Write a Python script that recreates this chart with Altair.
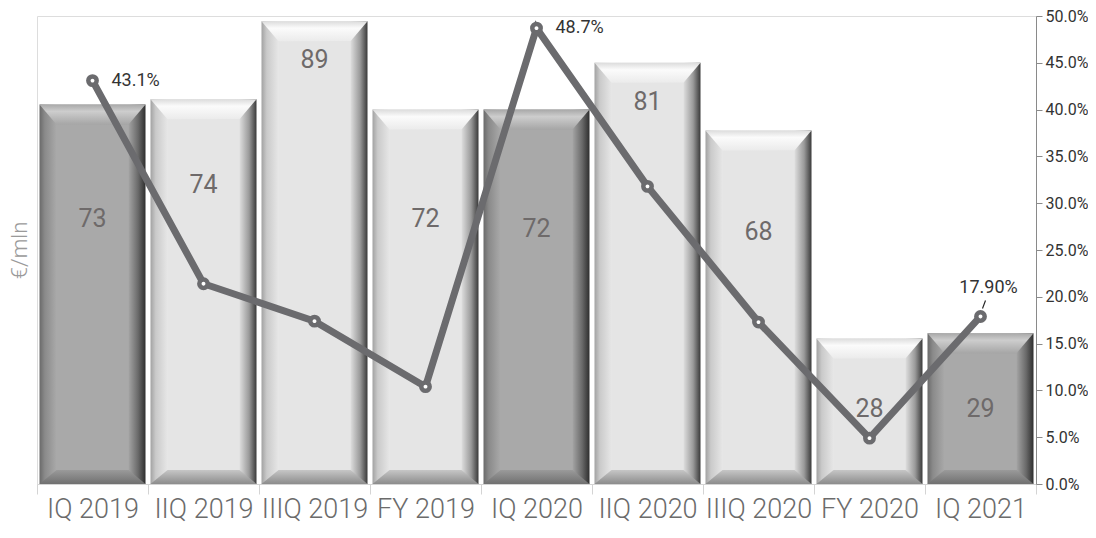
import altair as alt
import pandas as pd

categories = ["IQ 2019", "IIQ 2019", "IIIQ 2019", "FY 2019", "IQ 2020",
              "IIQ 2020", "IIIQ 2020", "FY 2020", "IQ 2021"]
values = [73, 74, 89, 72, 72, 81, 68, 28, 29]
tones = ["dark", "light", "light", "light", "dark", "light", "light", "light", "dark"]
label_pos = [51, 57.5, 81.5, 51, 49, 73.5, 48.5, 14.5, 14.5]
pct = [43.1, 21.4, 17.4, 10.4, 48.7, 31.8, 17.3, 4.9, 17.9]
pct_labels = ["43.1%", "", "", "", "48.7%", "", "", "", "17.90%"]
pct_side = ["right", "", "", "", "right", "", "", "", "above"]

df = pd.DataFrame({
    "cat": categories, "value": values, "tone": tones, "lpos": label_pos,
    "pct": [p / 100 for p in pct], "plabel": pct_labels, "side": pct_side,
    "vlabel": [str(v) for v in values],
})

FONT = "Roboto"
BAR_W = 106
FACE_W = 72
TOP_H = 20
BOT_H = 14

x_enc = alt.X("cat:N", sort=categories,
              scale=alt.Scale(paddingInner=0, paddingOuter=0),
              axis=alt.Axis(title=None, labelFontSize=27, labelColor="#6b6b6b",
                            labelFontWeight=300, labelFont=FONT, labelAngle=0,
                            labelPadding=2, tickBand="extent", tickSize=10,
                            tickColor="#d4d4d4", domainColor="#d4d4d4",
                            labelOverlap=False))

y_scale = alt.Scale(domain=[0, 90], nice=False, zero=True)
y_bar = alt.Y("value:Q", scale=y_scale, stack=None,
              axis=alt.Axis(title="€/mln", labels=False, ticks=False, domain=False,
                            grid=False, titleFontSize=22, titleColor="#9a9a9a",
                            titleFontWeight=300, titleFont=FONT, titlePadding=6))


def hgrad(stops):
    return alt.Gradient(gradient="linear", x1=0, x2=1, y1=0, y2=0,
                        stops=[alt.GradientStop(offset=o, color=c) for o, c in stops])


def vgrad(stops):
    return alt.Gradient(gradient="linear", x1=0, x2=0, y1=0, y2=1,
                        stops=[alt.GradientStop(offset=o, color=c) for o, c in stops])


styles = {
    "dark": dict(
        side=[(0, "#6a6a6a"), (0.05, "#8a8a8a"), (0.16, "#a9a9a9"), (0.84, "#a4a4a4"),
              (0.93, "#6a6a6a"), (1, "#2e2e2e")],
        top=[(0, "#a8a8a8"), (0.35, "#cdcdcd"), (1, "#a6a6a6")],
        bot=[(0, "#9a9a9a"), (1, "#707070")],
        face="#a9a9a9"),
    "light": dict(
        side=[(0, "#a2a2a2"), (0.05, "#cacaca"), (0.16, "#e6e6e6"), (0.84, "#dedede"),
              (0.93, "#9a9a9a"), (1, "#3a3a3a")],
        top=[(0, "#dcdcdc"), (0.35, "#fbfbfb"), (1, "#ebebeb")],
        bot=[(0, "#c6c6c6"), (1, "#8c8c8c")],
        face="#e5e5e5"),
}

hw = TOP_H / BAR_W
bw = BOT_H / BAR_W
fr = FACE_W / BAR_W
top_path = f"M-1,{-hw:.4f}L1,{-hw:.4f}L{fr:.4f},{hw:.4f}L{-fr:.4f},{hw:.4f}Z"
bot_path = f"M{-fr:.4f},{-bw:.4f}L{fr:.4f},{-bw:.4f}L1,{bw:.4f}L-1,{bw:.4f}Z"
sym_size = BAR_W * BAR_W

base = alt.Chart(df)
bar_layers = []
for tone, st in styles.items():
    b = base.transform_filter(alt.datum.tone == tone)
    bar_layers.append(b.mark_bar(size=BAR_W, fill=hgrad(st["side"]), stroke=None).encode(
        x=x_enc, y=y_bar, y2=alt.datum(0)))
    bar_layers.append(b.mark_bar(size=FACE_W, fill=st["face"], yOffset=TOP_H,
                                 y2Offset=-BOT_H).encode(
        x=x_enc, y=y_bar, y2=alt.datum(0)))
    bar_layers.append(b.mark_point(shape=top_path, size=sym_size, filled=True, opacity=1,
                                   fill=vgrad(st["top"]), strokeWidth=0,
                                   yOffset=TOP_H / 2).encode(x=x_enc, y=y_bar))
    bar_layers.append(b.mark_point(shape=bot_path, size=sym_size, filled=True, opacity=1,
                                   fill=vgrad(st["bot"]), strokeWidth=0,
                                   yOffset=-BOT_H / 2).encode(
        x=x_enc, y=alt.Y(datum=0, scale=y_scale)))

bar_text = base.mark_text(font=FONT, fontSize=25, color="#6e6a6a", baseline="middle").encode(
    x=x_enc, y=alt.Y("lpos:Q", scale=y_scale), text="vlabel:N")

bars = alt.layer(*bar_layers, bar_text)

LINE_C = "#6b6b6e"
p_scale = alt.Scale(domain=[0, 0.5], nice=False)
y_pct = alt.Y("pct:Q", scale=p_scale,
              axis=alt.Axis(orient="right", title=None, format=".1%", values=[i * 0.05 for i in range(11)],
                            labelFontSize=16, labelColor="#333333", labelFont=FONT,
                            tickSize=6, tickColor="#8a8a8a", domainColor="#8a8a8a",
                            grid=False, labelPadding=3))

line = base.mark_line(color=LINE_C, strokeWidth=7).encode(x=x_enc, y=y_pct)
pts = base.mark_point(filled=True, fill="white", stroke=LINE_C, strokeWidth=4.5,
                      size=70, opacity=1).encode(x=x_enc, y=y_pct)
lab_r = base.transform_filter(alt.datum.side == "right").mark_text(
    font=FONT, fontSize=18, color="#333333", align="left", baseline="middle", dx=19).encode(
    x=x_enc, y=y_pct, text="plabel:N")
lab_a = base.transform_filter(alt.datum.side == "above").mark_text(
    font=FONT, fontSize=18, color="#333333", align="center", baseline="middle", dx=8, dy=-28).encode(
    x=x_enc, y=y_pct, text="plabel:N")
leader = base.transform_filter(alt.datum.side == "above").mark_rule(
    color="#222222", strokeWidth=1.2, xOffset=2, x2Offset=5, yOffset=-8, y2Offset=-16).encode(
    x=x_enc, x2="cat:N", y=y_pct, y2="pct:Q")

lines = alt.layer(line, pts, lab_r, leader, lab_a)

chart = alt.layer(bars, lines).resolve_scale(y="independent").properties(
    width=1080, height=522,
    autosize=alt.AutoSizeParams(type="fit", contains="padding"),
    padding={"top": 0, "left": 0, "right": 0, "bottom": 8}
).configure_view(stroke=None).configure(font=FONT, background="white")

chart.save("out.html", embed_options={"renderer": "svg", "actions": False})
